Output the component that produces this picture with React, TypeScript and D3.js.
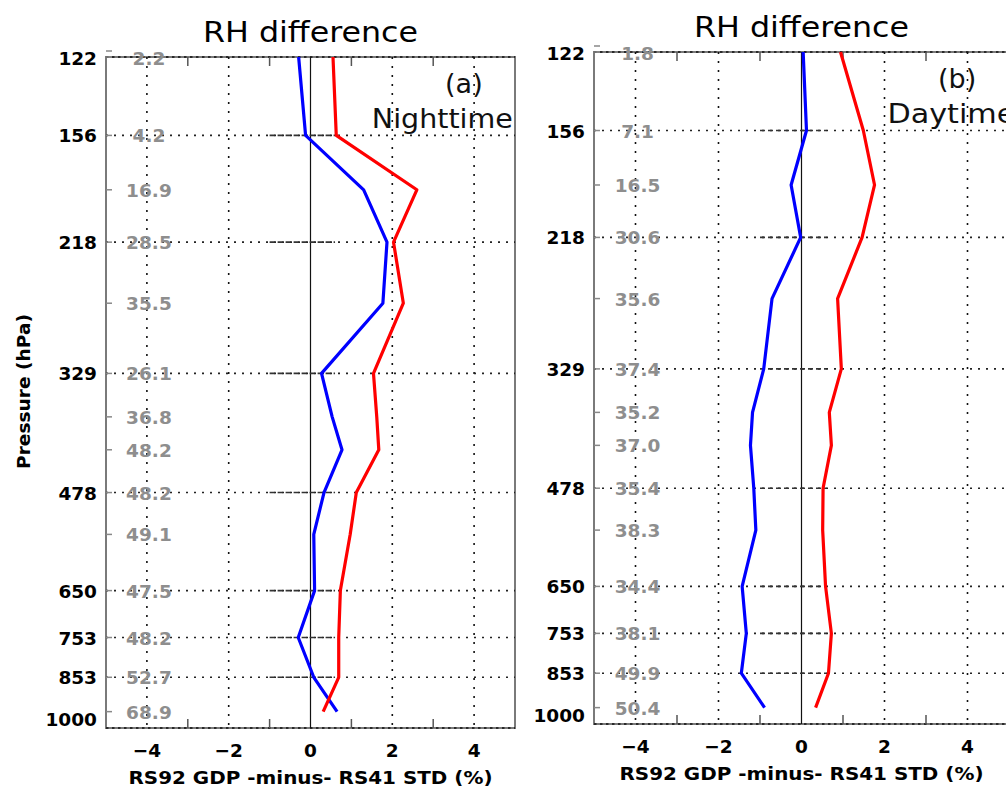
import React from "react";
import * as d3 from "d3";

// pressure levels (hPa) of the profile points
const LEVELS = [122, 156, 185, 218, 264, 329, 377, 418, 478, 545, 650, 753, 853, 950];
const AXIS_LEVELS = [122, 156, 218, 329, 478, 650, 753, 853, 1000];
const GRID_LEVELS = [156, 218, 329, 478, 650, 753, 853];
const X_TICKS = [-4, -2, 0, 2, 4];
const X_MINOR = [-3, -1, 1, 3];

// (a) Nighttime
const NIGHT_COUNT = [2.2, 4.2, 16.9, 28.5, 35.5, 26.1, 36.8, 48.2, 48.2, 49.1, 47.5, 48.2, 52.7, 68.9];
const NIGHT_BLUE = [-0.29, -0.12, 1.3, 1.87, 1.77, 0.27, 0.53, 0.77, 0.33, 0.08, 0.1, -0.3, 0.08, 0.65];
const NIGHT_RED = [0.55, 0.63, 2.6, 2.03, 2.27, 1.54, 1.62, 1.67, 1.12, 0.97, 0.73, 0.69, 0.69, 0.31];

// (b) Daytime
const DAY_COUNT = [1.8, 7.1, 16.5, 30.6, 35.6, 37.4, 35.2, 37.0, 35.4, 38.3, 34.4, 38.1, 49.9, 50.4];
const DAY_BLUE = [0.04, 0.12, -0.25, -0.02, -0.71, -0.91, -1.18, -1.23, -1.15, -1.1, -1.43, -1.33, -1.45, -0.89];
const DAY_RED = [0.94, 1.49, 1.76, 1.46, 0.87, 0.96, 0.67, 0.72, 0.52, 0.51, 0.58, 0.72, 0.65, 0.34];

const TITLE = "RH difference";
const X_TITLE = "RS92 GDP -minus- RS41 STD (%)";
const Y_TITLE = "Pressure (hPa)";

const FONT = "'DejaVu Sans', sans-serif";

type PanelProps = {
  x0: number; x1: number; y0: number; y1: number;
  counts: number[]; blue: number[]; red: number[];
  tag: string; period: string; periodAt: number; showYTitle: boolean;
};

function Panel({ x0, x1, y0, y1, counts, blue, red, tag, period, periodAt, showYTitle }: PanelProps) {
  const x = d3.scaleLinear().domain([-5, 5]).range([x0, x1]);
  const y = d3.scaleLog().domain([122, 1000]).range([y0, y1]);
  const line = d3.line<[number, number]>().x(d => x(d[0])).y(d => y(d[1]));
  const blueD = line(LEVELS.map((p, i) => [blue[i], p]))!;
  const redD = line(LEVELS.map((p, i) => [red[i], p]))!;
  const fmt = d3.format(".1f");
  const cx = (x0 + x1) / 2;
  return (
    <g>
      {/* frame */}
      <rect x={x0} y={y0} width={x1 - x0} height={y1 - y0} fill="none" stroke="#7a7a7a" strokeWidth={2} />
      <line x1={x0} x2={x0 + 6} y1={y0 - 6} y2={y0 - 6} stroke="#888" strokeWidth={1.5} />
      {/* top & bottom dotted */}
      {[y0, y1].map((yy, i) => (
        <line key={"tb" + i} x1={x0} x2={x1} y1={yy} y2={yy} stroke="#111" strokeWidth={1.6} strokeDasharray="2.5,3.5" />
      ))}
      {/* vertical grid */}
      {X_TICKS.filter(v => v !== 0).map(v => (
        <line key={"vg" + v} x1={x(v)} x2={x(v)} y1={y0} y2={y1} stroke="#111" strokeWidth={1.6} strokeDasharray="2,7" />
      ))}
      <line x1={x(0)} x2={x(0)} y1={y0} y2={y1} stroke="#111" strokeWidth={1.2} />
      {/* horizontal grid */}
      {GRID_LEVELS.map(p => (
        <g key={"hg" + p}>
          <line x1={x0} x2={x1} y1={y(p)} y2={y(p)} stroke="#222" strokeWidth={1.6} strokeDasharray="2,6" />
          <line x1={x(-1)} x2={x(0.6)} y1={y(p)} y2={y(p)} stroke="#333" strokeWidth={1.6} strokeDasharray="5,3" />
        </g>
      ))}
      {/* x minor ticks */}
      {X_MINOR.map(v => (
        <g key={"xm" + v}>
          <line x1={x(v)} x2={x(v)} y1={y0} y2={y0 + 9} stroke="#555" strokeWidth={1.5} />
          <line x1={x(v)} x2={x(v)} y1={y1} y2={y1 - 9} stroke="#555" strokeWidth={1.5} />
        </g>
      ))}
      {/* level ticks */}
      {LEVELS.map(p => (
        <line key={"lt" + p} x1={x0} x2={x0 + 6} y1={y(p)} y2={y(p)} stroke="#888" strokeWidth={1.5} />
      ))}
      {/* y tick labels */}
      {AXIS_LEVELS.map(p => (
        <text key={"yl" + p} x={x0 - 9} y={y(p) + (p === 122 ? 8 : p === 1000 ? -2 : 7)} textAnchor="end"
          fontFamily={FONT} fontWeight="bold" fontSize={18.5} fill="#000">{p}</text>
      ))}
      {/* counts */}
      {LEVELS.map((p, i) => (
        <text key={"c" + p} x={x(-3.95)} y={y(p) + (i === 0 ? 8 : 7)} textAnchor="middle"
          fontFamily={FONT} fontWeight="bold" fontSize={18.5} fill="#8e8e8e">{fmt(counts[i])}</text>
      ))}
      {/* lines */}
      <path d={blueD} fill="none" stroke="#0000ff" strokeWidth={3.2} strokeLinejoin="round" />
      <path d={redD} fill="none" stroke="#ff0000" strokeWidth={3.2} strokeLinejoin="round" />
      {/* x tick labels */}
      {X_TICKS.map(v => (
        <text key={"xl" + v} x={x(v)} y={y1 + 29} textAnchor="middle" fontFamily={FONT} fontWeight="bold"
          fontSize={18.5} fill="#000">{v < 0 ? "\u2212" + Math.abs(v) : String(v)}</text>
      ))}
      <text x={cx} y={y1 + 56} textAnchor="middle" fontFamily={FONT} fontWeight="bold" fontSize={18}
        textLength={364} lengthAdjust="spacingAndGlyphs" fill="#000">{X_TITLE}</text>
      {/* title */}
      <text x={cx} y={y0 - 15} textAnchor="middle" fontFamily={FONT} fontSize={28}
        textLength={215} lengthAdjust="spacingAndGlyphs" fill="#000">{TITLE}</text>
      <text x={x(3.75)} y={y0 + 36} textAnchor="middle" fontFamily={FONT} fontSize={27} fill="#111">{tag}</text>
      <text x={x(periodAt)} y={y0 + 71} textAnchor="start" fontFamily={FONT} fontSize={26}
        textLength={period.length > 8 ? 141 : 128} lengthAdjust="spacingAndGlyphs" fill="#111">{period}</text>
      {showYTitle && (
        <text transform={`translate(${30},${(y0 + y1) / 2 - 1}) rotate(-90)`} textAnchor="middle"
          fontFamily={FONT} fontWeight="bold" fontSize={17.5} textLength={155} lengthAdjust="spacingAndGlyphs" fill="#000">{Y_TITLE}</text>
      )}
    </g>
  );
}

export default function App() {
  return (
    <svg width={1006} height={787} style={{ position: "absolute", left: 0, top: 0, background: "#fff" }}>
      <rect x={0} y={0} width={1006} height={787} fill="#fff" />
      <Panel x0={106} x1={515} y0={57} y1={728} counts={NIGHT_COUNT} blue={NIGHT_BLUE} red={NIGHT_RED}
        tag="(a)" period="Nighttime" periodAt={1.5} showYTitle={true} />
      <Panel x0={594} x1={1009} y0={52} y1={724} counts={DAY_COUNT} blue={DAY_BLUE} red={DAY_RED}
        tag="(b)" period="Daytime" periodAt={2.07} showYTitle={false} />
    </svg>
  );
}
